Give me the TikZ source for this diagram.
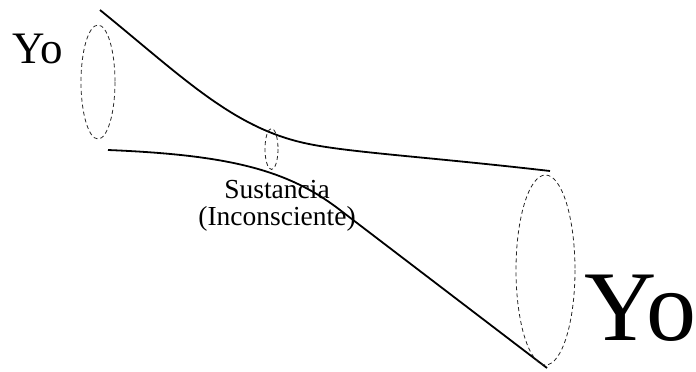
\documentclass[tikz,border=0pt]{standalone}
\usepackage{fontspec}
\setmainfont{Liberation Serif}
\usepackage{tikz}
\usetikzlibrary{positioning}

\begin{document}
\begin{tikzpicture}[
  x=1pt, y=-1pt,
  tube/.style={line width=1.8pt, black},
  rim/.style={line width=0.8pt, dash pattern=on 4pt off 3pt, black!85},
  ego/.style={inner sep=0pt, anchor=base west},
  note/.style={inner sep=0pt, anchor=base, align=center,
               font=\fontsize{27.5}{27}\selectfont},
]
\useasboundingbox (0,0) rectangle (696,372);

% Outline of the tube
\draw[tube] (100,10) .. controls (180,75) and (230,125) .. (300,142)
            .. controls (340,152) and (420,156) .. (550,171);
\draw[tube] (108,150) .. controls (230,155) and (288,170) .. (340,210)
            -- (547,368);

% Cross sections
\draw[rim] (98,82) ellipse [x radius=17, y radius=57];
\draw[rim] (271.5,149) ellipse [x radius=6.5, y radius=20.5];
\draw[rim] (545.5,270) ellipse [x radius=29.5, y radius=95];

% Labels
\node[ego, font=\fontsize{45}{45}\selectfont] (yosmall) at (12,63) {Yo};
\node[ego, font=\fontsize{100}{100}\selectfont] (yobig) at (584,340) {Yo};
\node[note] (sust) at (277,225) {Sustancia\\(Inconsciente)};
\end{tikzpicture}
\end{document}
